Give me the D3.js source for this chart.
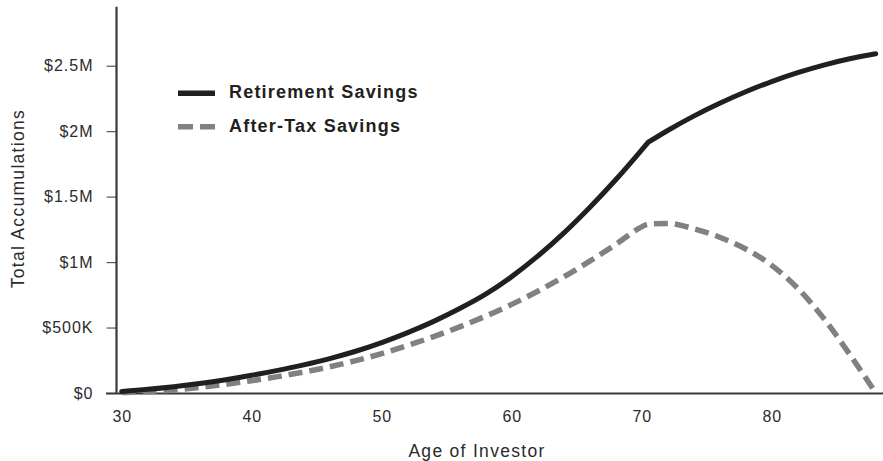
<!DOCTYPE html>
<html>
<head>
<meta charset="utf-8">
<script src="https://cdn.jsdelivr.net/npm/d3@7"></script>
<style>
  html, body { margin: 0; padding: 0; background: #fff; }
  svg { display: block; font-family: "Liberation Sans", Arial, sans-serif; }
</style>
</head>
<body>
<svg id="chart" width="883" height="461"></svg>
<script>
// Ages of the investor (years)
const ages = [30, 32, 34, 36, 38, 40, 42, 44, 46, 48, 50, 52, 54, 56, 58, 60, 62, 64, 66, 68, 70, 70.5, 72, 74, 76, 78, 80, 82, 84, 86, 88];
// Retirement account balance (USD)
const retirementSavings = [12000, 28000, 48000, 72000, 101000, 135000, 173000, 215000, 263000, 319000, 385000, 461000, 547000, 645000, 755000, 889000, 1045000, 1221000, 1417000, 1629000, 1857000, 1915000, 2005000, 2115000, 2213000, 2301000, 2379000, 2447000, 2505000, 2553000, 2591000];
// Balance of the same savings after taxes (USD)
const afterTaxSavings = [3000, 11000, 23000, 43000, 67000, 94000, 125000, 160000, 200000, 247000, 301000, 363000, 431000, 505000, 587000, 677000, 777000, 887000, 1007000, 1135000, 1269000, 1290000, 1295000, 1255000, 1190000, 1100000, 975000, 800000, 570000, 295000, 0];
// Age at which withdrawals begin
const retirementAge = 70.5;

const xTickValues = [30, 40, 50, 60, 70, 80];
const yTickValues = [0, 500000, 1000000, 1500000, 2000000, 2500000];
const yTickLabels = ["$0", "$500K", "$1M", "$1.5M", "$2M", "$2.5M"];

const seriesNames = ["Retirement Savings", "After-Tax Savings"];

const svg = d3.select("#chart");
const W = 883, H = 461;

const x = d3.scaleLinear().domain([30, 90]).range([121.7, 901.7]);
const y = d3.scaleLinear().domain([0, 2950000]).range([393, 6.8]);

const axisColor = "#3a3a3a";
const textColor = "#2b2b2b";

// Y axis: ticks and labels
const yAxis = d3.axisLeft(y)
  .tickValues(yTickValues)
  .tickFormat((d, i) => yTickLabels[i])
  .tickSize(10)
  .tickPadding(13);
const gy = svg.append("g").attr("transform", "translate(116.5,0)").call(yAxis);
gy.select(".domain").remove();
gy.selectAll(".tick line").attr("stroke", "#555").attr("stroke-width", 1.2);
gy.selectAll(".tick text")
  .attr("fill", textColor)
  .style("font-size", "16px")
  .style("letter-spacing", "1px");

// X axis: labels only
const xAxis = d3.axisBottom(x)
  .tickValues(xTickValues)
  .tickFormat(d3.format("d"))
  .tickSize(0)
  .tickPadding(18);
const gx = svg.append("g").attr("transform", "translate(0,393)").call(xAxis);
gx.select(".domain").remove();
gx.selectAll(".tick text")
  .attr("fill", textColor)
  .style("font-size", "16px")
  .style("letter-spacing", "0.9px");

// Axis lines
svg.append("line")
  .attr("x1", 116.5).attr("x2", 116.5)
  .attr("y1", y.range()[1]).attr("y2", y(0))
  .attr("stroke", axisColor).attr("stroke-width", 2.2);
svg.append("line")
  .attr("x1", 106).attr("x2", W)
  .attr("y1", y(0) + 0.5).attr("y2", y(0) + 0.5)
  .attr("stroke", axisColor).attr("stroke-width", 2);

// Axis titles
svg.append("text")
  .attr("transform", "translate(23.5,198.6) rotate(-90)")
  .attr("text-anchor", "middle")
  .attr("fill", textColor)
  .style("font-size", "17.5px")
  .style("letter-spacing", "1.3px")
  .text("Total Accumulations");
svg.append("text")
  .attr("x", 477).attr("y", 457)
  .attr("text-anchor", "middle")
  .attr("fill", textColor)
  .style("font-size", "17.5px")
  .style("letter-spacing", "1.3px")
  .text("Age of Investor");

// Series lines
const solidRows = ages.map((a, i) => ({ age: a, v: retirementSavings[i] }));
const dashRows = ages.map((a, i) => ({ age: a, v: afterTaxSavings[i] }));

const line = d3.line()
  .x(d => x(d.age))
  .y(d => y(d.v))
  .curve(d3.curveMonotoneX);

// Accumulation phase and withdrawal phase meet at a sharp corner
const accumulation = solidRows.filter(d => d.age <= retirementAge);
const withdrawal = solidRows.filter(d => d.age >= retirementAge);

svg.append("path")
  .attr("d", line(dashRows))
  .attr("fill", "none")
  .attr("stroke", "#818181")
  .attr("stroke-width", 5.5)
  .attr("stroke-dasharray", "14,7");

svg.append("path")
  .attr("d", line(accumulation) + line(withdrawal).replace(/^M/, "L"))
  .attr("fill", "none")
  .attr("stroke", "#231f20")
  .attr("stroke-width", 5)
  .attr("stroke-linejoin", "miter")
  .attr("stroke-linecap", "round");

// Legend
const legend = svg.append("g");
const legendRows = [
  { name: seriesNames[0], y: 93.3, base: 98.3, color: "#231f20", dash: null },
  { name: seriesNames[1], y: 126.7, base: 131.7, color: "#818181", dash: "15,7" }
];
legendRows.forEach(r => {
  legend.append("line")
    .attr("x1", 178).attr("x2", 215)
    .attr("y1", r.y).attr("y2", r.y)
    .attr("stroke", r.color)
    .attr("stroke-width", 5.5)
    .attr("stroke-dasharray", r.dash);
  legend.append("text")
    .attr("x", 229).attr("y", r.base)
    .attr("fill", "#231f20")
    .style("font-size", "18px")
    .style("font-weight", "bold")
    .style("letter-spacing", "1.2px")
    .text(r.name);
});
</script>
</body>
</html>
